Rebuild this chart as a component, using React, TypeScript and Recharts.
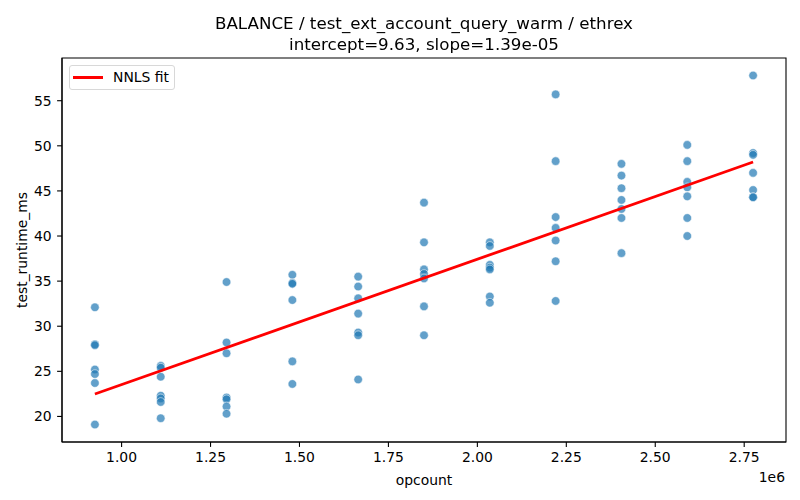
import React from 'react';
import { ScatterChart, Scatter, XAxis, YAxis, ReferenceArea } from 'recharts';

const opcounts = [925000, 1110000, 1295000, 1480000, 1665000, 1850000, 2035000, 2220000, 2405000, 2590000, 2775000];
const runtimesMs = [
  [32.1, 28.0, 27.9, 25.2, 24.7, 23.7, 19.1],
  [25.6, 25.4, 24.4, 22.3, 22.0, 21.6, 19.8],
  [34.9, 28.2, 27.0, 22.1, 21.9, 21.1, 20.3],
  [35.7, 34.8, 34.7, 32.9, 26.1, 23.6],
  [35.5, 34.4, 33.1, 31.4, 29.3, 29.0, 24.1],
  [43.7, 39.3, 36.3, 35.8, 35.3, 32.2, 29.0],
  [39.3, 38.9, 36.8, 36.5, 36.3, 33.3, 32.6],
  [55.7, 48.3, 42.1, 40.9, 39.5, 37.2, 32.8],
  [48.0, 46.7, 45.3, 44.0, 43.0, 42.0, 38.1],
  [50.1, 48.3, 46.0, 45.4, 44.4, 42.0, 40.0],
  [57.8, 49.2, 49.0, 47.0, 45.1, 44.3, 44.3],
];
const intercept = 9.63;
const slope = 1.39e-5;
const xDomain = [832500, 2867500];
const yDomain = [17.165, 59.735];
const xTicks = [1000000, 1250000, 1500000, 1750000, 2000000, 2250000, 2500000, 2750000];
const yTicks = [20, 25, 30, 35, 40, 45, 50, 55];
const titleLines = ['BALANCE / test_ext_account_query_warm / ethrex', 'intercept=9.63, slope=1.39e-05'];

const points = opcounts.flatMap((x, i) => runtimesMs[i].map((y) => ({ x, y })));
const fitLine = [opcounts[0], opcounts[opcounts.length - 1]].map((x) => ({ x, y: intercept + slope * x }));

const FONT = '"DejaVu Sans", sans-serif';
const tickStyle = { fontSize: 13.9, fill: '#000', fontFamily: FONT };

const Dot = (props: any) => (
  <circle
    cx={props.cx}
    cy={props.cy}
    r={4.3}
    fill="#1f77b4"
    fillOpacity={0.7}
    stroke="#ffffff"
    strokeOpacity={0.7}
    strokeWidth={0.75}
  />
);

export default function App() {
  return (
    <div style={{ position: 'fixed', left: 0, top: 0, width: 800, height: 500, background: '#fff', fontFamily: FONT }}>
      <ScatterChart width={800} height={500} margin={{ top: 58, right: 14, bottom: 0, left: 0 }}>
        <XAxis
          dataKey="x"
          type="number"
          domain={xDomain}
          allowDataOverflow
          ticks={xTicks}
          tickFormatter={(v: number) => (v / 1e6).toFixed(2)}
          height={58}
          tickSize={4.9}
          tickMargin={5}
          tick={tickStyle}
          axisLine={{ stroke: '#000', strokeWidth: 1.1 }}
          tickLine={{ stroke: '#000', strokeWidth: 1.1 }}
          label={{ value: 'opcount', position: 'insideBottom', offset: 15, style: { fontSize: 13.9, fill: '#000', fontFamily: FONT } }}
        />
        <YAxis
          dataKey="y"
          type="number"
          domain={yDomain}
          allowDataOverflow
          ticks={yTicks}
          width={62}
          tickSize={4.9}
          tickMargin={5.5}
          tick={tickStyle}
          axisLine={{ stroke: '#000', strokeWidth: 1.1 }}
          tickLine={{ stroke: '#000', strokeWidth: 1.1 }}
          label={{ value: 'test_runtime_ms', angle: -90, position: 'insideLeft', offset: 22, style: { textAnchor: 'middle', fontSize: 13.9, fill: '#000', fontFamily: FONT } }}
        />
        <ReferenceArea
          x1={xDomain[0]}
          x2={xDomain[1]}
          y1={yDomain[0]}
          y2={yDomain[1]}
          fill="none"
          fillOpacity={0}
          stroke="#000"
          strokeWidth={1.1}
          strokeOpacity={1}
          ifOverflow="visible"
        />
        <Scatter data={points} shape={Dot} isAnimationActive={false} />
        <Scatter
          data={fitLine}
          line={{ stroke: '#ff0000', strokeWidth: 2.8 }}
          lineType="joint"
          shape={() => <g />}
          isAnimationActive={false}
        />
      </ScatterChart>
      {titleLines.map((t, i) => (
        <div
          key={i}
          style={{
            position: 'absolute',
            left: 24,
            width: 800,
            top: 12 + i * 21,
            textAlign: 'center',
            fontSize: 16.7,
            lineHeight: '22px',
            color: '#000',
            whiteSpace: 'nowrap',
          }}
        >
          {t}
        </div>
      ))}
      <div style={{ position: 'absolute', right: 15, top: 468, fontSize: 13.9, lineHeight: '18px', color: '#000' }}>1e6</div>
      <div
        style={{
          position: 'absolute',
          left: 69,
          top: 65,
          width: 104,
          height: 23,
          border: '1px solid #d8d8d8',
          borderRadius: 3,
          background: 'rgba(255,255,255,0.8)',
        }}
      >
        <div style={{ position: 'absolute', left: 3, top: 10, width: 30, height: 2.8, background: '#ff0000' }} />
        <div style={{ position: 'absolute', left: 43, top: 2, fontSize: 13.9, lineHeight: '18px', color: '#000' }}>NNLS fit</div>
      </div>
    </div>
  );
}
